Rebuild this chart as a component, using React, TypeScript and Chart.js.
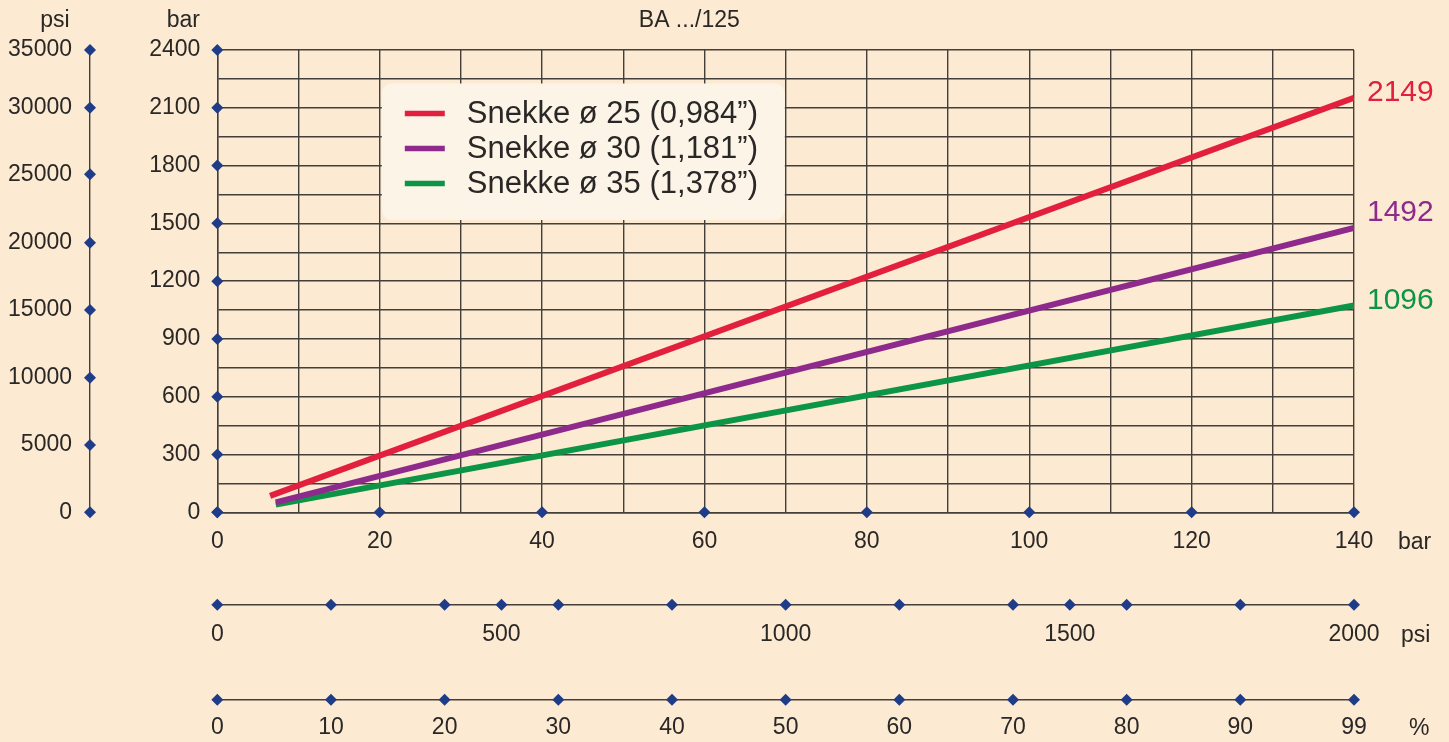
import React, { useEffect, useRef } from 'react';
import { Chart, registerables } from 'chart.js';

Chart.register(...registerables);

// ---------- data ----------
const chartTitle = 'BA .../125';
const seriesLabels = ['Snekke ø 25 (0,984”)', 'Snekke ø 30 (1,181”)', 'Snekke ø 35 (1,378”)'];
const seriesEndLabels = ['2149', '1492', '1096'];
const seriesColors = ['#E2203E', '#8D2A8C', '#0C9547'];

const snekke25 = [
  { x: 6.5, y: 85 },
  { x: 140, y: 2152 },
];
const snekke30 = [
  { x: 7.2, y: 52 },
  { x: 140, y: 1477 },
];
const snekke35 = [
  { x: 7.2, y: 40 },
  { x: 140, y: 1074 },
];

const barXTicks = [0, 10, 20, 30, 40, 50, 60, 70, 80, 90, 100, 110, 120, 130, 140];
const barYTicks = [0, 150, 300, 450, 600, 750, 900, 1050, 1200, 1350, 1500, 1650, 1800, 1950, 2100, 2250, 2400];
// left psi axis: labels and the bar level where each one sits in the original
const psiLeftLabels = ['0', '5000', '10000', '15000', '20000', '25000', '30000', '35000'];
const psiLeftAtBar = [0, 349, 699, 1050, 1400, 1755, 2100, 2400];
// bottom psi axis
const psiBottomTicks = [0, 200, 400, 500, 600, 800, 1000, 1200, 1400, 1500, 1600, 1800, 2000];
const psiBottomLabelled = [0, 500, 1000, 1500, 2000];
// percent axis
const pctTicks = [0, 10, 20, 30, 40, 50, 60, 70, 80, 90, 100];
const pctLabels = ['0', '10', '20', '30', '40', '50', '60', '70', '80', '90', '99'];

// ---------- style ----------
const FONT = '"Liberation Sans", Arial, Helvetica, sans-serif';
const TEXT = '#2a2826';
const GRID = '#433f3a';
const BG = '#FCEAD2';
const LEGEND_BG = '#FDF4E8';
const DIAMOND = '#1E3C87';
const TICK_SIZE = 23;

function drawDiamond(ctx: CanvasRenderingContext2D, x: number, y: number, r: number) {
  ctx.beginPath();
  ctx.moveTo(x, y - r);
  ctx.lineTo(x + r, y);
  ctx.lineTo(x, y + r);
  ctx.lineTo(x - r, y);
  ctx.closePath();
  ctx.fill();
}

const backgroundPlugin = {
  id: 'bgFill',
  beforeDraw(chart: any) {
    const ctx = chart.ctx;
    ctx.save();
    ctx.fillStyle = BG;
    ctx.fillRect(0, 0, chart.width, chart.height);
    ctx.restore();
  },
};

const legendPlugin = {
  id: 'boxLegend',
  beforeDatasetsDraw(chart: any) {
    const ctx = chart.ctx;
    const ca = chart.chartArea;
    const left = ca.left + 164.5;
    const top = ca.top + 33.5;
    const w = 403;
    const h = 136.5;
    ctx.save();
    ctx.fillStyle = LEGEND_BG;
    ctx.beginPath();
    (ctx as any).roundRect(left, top, w, h, 10);
    ctx.fill();
    chart.data.datasets.forEach((ds: any, i: number) => {
      const y = top + 30 + i * 35;
      ctx.strokeStyle = ds.borderColor;
      ctx.lineWidth = 5.5;
      ctx.beginPath();
      ctx.moveTo(left + 23, y);
      ctx.lineTo(left + 63, y);
      ctx.stroke();
      ctx.fillStyle = TEXT;
      ctx.font = `31px ${FONT}`;
      ctx.textAlign = 'left';
      ctx.textBaseline = 'middle';
      ctx.fillText(ds.label, left + 85, y + 1);
    });
    ctx.restore();
  },
};

const endLabelOffsets = [-5, -15, -5];

const decorPlugin = {
  id: 'decor',
  afterDraw(chart: any) {
    const ctx = chart.ctx;
    const ca = chart.chartArea;
    const sx = chart.scales.x;
    const sy = chart.scales.y;
    const sPsiL = chart.scales.yPsi;
    const sPsiB = chart.scales.xPsi;
    const sPct = chart.scales.xPct;
    ctx.save();
    // diamonds
    ctx.fillStyle = DIAMOND;
    const r = 6;
    sy.ticks.forEach((t: any) => {
      if (t.value % 300 === 0) drawDiamond(ctx, ca.left, sy.getPixelForValue(t.value), r);
    });
    sx.ticks.forEach((t: any) => {
      if (t.value % 20 === 0) drawDiamond(ctx, sx.getPixelForValue(t.value), ca.bottom, r);
    });
    sPsiL.ticks.forEach((t: any) => drawDiamond(ctx, sPsiL.right, sPsiL.getPixelForValue(t.value), r));
    sPsiB.ticks.forEach((t: any) => drawDiamond(ctx, sPsiB.getPixelForValue(t.value), sPsiB.top, r));
    sPct.ticks.forEach((t: any) => drawDiamond(ctx, sPct.getPixelForValue(t.value), sPct.top, r));

    // header texts
    ctx.fillStyle = TEXT;
    ctx.font = `${TICK_SIZE}px ${FONT}`;
    ctx.textAlign = 'center';
    ctx.textBaseline = 'middle';
    ctx.fillText('psi', sPsiL.right - 35, 21);
    ctx.fillText('bar', sy.right - 34, 21);
    ctx.fillText(chartTitle, ca.left + 472, 21);

    // unit labels on the right of bottom axes
    const lh = (TICK_SIZE * 1.2) / 2;
    ctx.textAlign = 'left';
    ctx.fillText('bar', ca.right + 44, sx.top + 16 + lh + 1);
    ctx.fillText('psi', ca.right + 47, sPsiB.top + 15 + lh + 2);
    ctx.fillText('%', ca.right + 55, sPct.top + 14 + lh + 1);

    // end value labels
    ctx.font = `30px ${FONT}`;
    chart.data.datasets.forEach((ds: any, i: number) => {
      const last = ds.data[ds.data.length - 1];
      const y = sy.getPixelForValue(last.y) + endLabelOffsets[i];
      ctx.fillStyle = ds.borderColor;
      ctx.fillText(seriesEndLabels[i], ca.right + 13, y);
    });
    ctx.restore();
  },
};

const tickFont = { family: FONT, size: TICK_SIZE };

export default function App() {
  const ref = useRef<HTMLCanvasElement | null>(null);

  useEffect(() => {
    document.body.style.margin = '0';
    document.body.style.background = BG;
    const canvas = ref.current;
    if (!canvas) return;
    const chart = new Chart(canvas, {
      type: 'line',
      data: {
        datasets: [snekke25, snekke30, snekke35].map((d, i) => ({
          label: seriesLabels[i],
          data: d,
          borderColor: seriesColors[i],
          backgroundColor: seriesColors[i],
          borderWidth: 6,
          pointRadius: 0,
          pointHoverRadius: 0,
          fill: false,
          tension: 0,
          borderCapStyle: 'butt' as const,
          xAxisID: 'x',
          yAxisID: 'y',
        })),
      },
      options: {
        responsive: false,
        animation: false,
        events: [],
        layout: { padding: { left: 0, right: 95, top: 50, bottom: 0 } },
        plugins: {
          legend: { display: false },
          title: { display: false },
          tooltip: { enabled: false },
        },
        scales: {
          x: {
            type: 'linear',
            position: 'bottom',
            weight: 0,
            min: 0,
            max: 140,
            afterBuildTicks: (s: any) => {
              s.ticks = barXTicks.map((v) => ({ value: v }));
            },
            afterFit: (s: any) => {
              s.height = 92.5;
            },
            grid: { color: GRID, lineWidth: 1.4, drawTicks: false },
            border: { display: true, color: GRID, width: 1.4 },
            ticks: {
              autoSkip: false,
              maxRotation: 0,
              padding: 16,
              color: TEXT,
              font: tickFont,
              callback: (v: any) => (Number(v) % 20 === 0 ? String(v) : ''),
            },
          },
          xPsi: {
            type: 'linear',
            position: 'bottom',
            weight: 1,
            min: 0,
            max: 2000,
            afterBuildTicks: (s: any) => {
              s.ticks = psiBottomTicks.map((v) => ({ value: v }));
            },
            afterFit: (s: any) => {
              s.height = 95;
            },
            grid: { display: false, drawTicks: false },
            border: { display: true, color: GRID, width: 1.4 },
            ticks: {
              autoSkip: false,
              maxRotation: 0,
              padding: 16,
              color: TEXT,
              font: tickFont,
              callback: (v: any) => (psiBottomLabelled.includes(Number(v)) ? String(v) : ''),
            },
          },
          xPct: {
            type: 'linear',
            position: 'bottom',
            weight: 2,
            min: 0,
            max: 100,
            afterBuildTicks: (s: any) => {
              s.ticks = pctTicks.map((v) => ({ value: v }));
            },
            afterFit: (s: any) => {
              s.height = 42.2;
            },
            grid: { display: false, drawTicks: false },
            border: { display: true, color: GRID, width: 1.4 },
            ticks: {
              autoSkip: false,
              maxRotation: 0,
              padding: 14,
              color: TEXT,
              font: tickFont,
              callback: (_v: any, i: number) => pctLabels[i],
            },
          },
          y: {
            type: 'linear',
            position: 'left',
            weight: 0,
            min: 0,
            max: 2400,
            afterBuildTicks: (s: any) => {
              s.ticks = barYTicks.map((v) => ({ value: v }));
            },
            afterFit: (s: any) => {
              s.width = 127.3;
            },
            grid: { color: GRID, lineWidth: 1.4, drawTicks: false },
            border: { display: true, color: GRID, width: 1.4 },
            ticks: {
              autoSkip: false,
              padding: 17,
              color: TEXT,
              font: tickFont,
              callback: (v: any) => (Number(v) % 300 === 0 ? String(v) : ''),
            },
          },
          yPsi: {
            type: 'linear',
            position: 'left',
            weight: 1,
            min: 0,
            max: 2400,
            afterBuildTicks: (s: any) => {
              s.ticks = psiLeftAtBar.map((v) => ({ value: v }));
            },
            afterFit: (s: any) => {
              s.width = 90;
            },
            grid: { display: false, drawTicks: false },
            border: { display: true, color: GRID, width: 1.4 },
            ticks: {
              autoSkip: false,
              padding: 18,
              color: TEXT,
              font: tickFont,
              callback: (_v: any, i: number) => psiLeftLabels[i],
            },
          },
        },
      } as any,
      plugins: [backgroundPlugin, legendPlugin, decorPlugin],
    });
    return () => chart.destroy();
  }, []);

  return (
    <div style={{ width: 1449, height: 742, background: BG }}>
      <canvas ref={ref} width={1449} height={742} style={{ display: 'block' }} />
    </div>
  );
}
